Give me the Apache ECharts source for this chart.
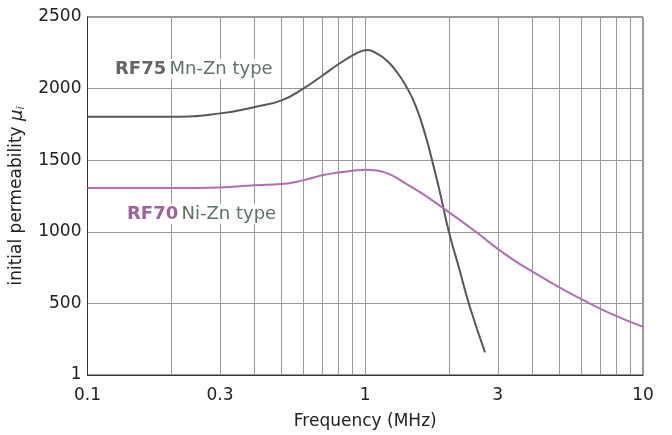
<!DOCTYPE html>
<html>
<head>
<meta charset="utf-8">
<script src="https://cdn.jsdelivr.net/npm/echarts@6/dist/echarts.min.js"></script>
<style>
html,body{margin:0;padding:0;background:#fff;}
#c{width:672px;height:435px;}
</style>
</head>
<body>
<div id="c"></div>
<script>
// Frequency (MHz) and initial permeability values
const rf75Freq = [0.1, 0.2, 0.3, 0.4, 0.5, 0.6, 0.7, 0.8, 0.9, 0.96, 1.02, 1.1, 1.2, 1.3, 1.4, 1.52, 1.65, 1.75, 1.85, 2.0, 2.18, 2.37, 2.7];
const rf75Mu   = [1804, 1804, 1827, 1872, 1918, 2002, 2090, 2170, 2232, 2258, 2269, 2246, 2193, 2115, 2020, 1878, 1669, 1480, 1290, 1000, 742, 487, 158];
const rf70Freq = [0.1, 0.2, 0.3, 0.4, 0.5, 0.6, 0.7, 0.8, 0.9, 1.0, 1.1, 1.2, 1.3, 1.4, 1.6, 1.8, 2.0, 2.5, 3.0, 3.5, 4, 5, 6, 7, 8, 9, 10];
const rf70Mu   = [1306, 1306, 1310, 1325, 1333, 1361, 1395, 1414, 1426, 1433, 1428, 1408, 1375, 1336, 1268, 1200, 1137, 1000, 881, 790, 722, 612, 529, 464, 413, 371, 336];
const minorGridFreq = [0.2, 0.3, 0.4, 0.5, 0.6, 0.7, 0.8, 0.9, 2, 3, 4, 5, 6, 7, 8, 9];
const extraXLabels = [0.3, 3];

const FONT = 'DejaVu Sans';
const zip = (a, b) => a.map((v, i) => [v, b[i]]);

const chart = echarts.init(document.getElementById('c'), null, {renderer: 'canvas'});
const gridColor = '#9a9a9a';
chart.setOption({
  animation: false,
  backgroundColor: '#fff',
  grid: {left: 86, right: 29, top: 17, bottom: 58, show: true, borderColor: '#333', borderWidth: 1},
  xAxis: {
    type: 'log', logBase: 10, min: 0.1, max: 10,
    name: 'Frequency (MHz)', nameLocation: 'middle', nameGap: 38,
    nameTextStyle: {fontFamily: FONT, fontSize: 17, color: '#222'},
    axisLine: {lineStyle: {color: '#333', width: 1}},
    axisTick: {show: false},
    axisLabel: {fontFamily: FONT, fontSize: 17, color: '#222', margin: 12,
      formatter: v => String(+v.toPrecision(3))},
    splitLine: {show: true, lineStyle: {color: gridColor, width: 1}},
    minorTick: {show: false}, minorSplitLine: {show: false}
  },
  yAxis: {
    type: 'value', min: 0, max: 2500, interval: 500,
    name: '{a|initial permeability }{m|μ}{s|i}', nameLocation: 'middle', nameGap: 61, nameRotate: 90,
    nameTextStyle: {fontFamily: FONT, fontSize: 17, color: '#222',
      rich: {a: {fontFamily: FONT, fontSize: 17, color: '#222'},
             m: {fontFamily: FONT, fontSize: 18, fontStyle: 'italic', color: '#222'},
             s: {fontFamily: FONT, fontSize: 11, fontStyle: 'italic', color: '#222', padding: [8, 0, 0, 0]}}},
    axisLine: {show: true, lineStyle: {color: '#333', width: 1}},
    axisTick: {show: false},
    axisLabel: {fontFamily: FONT, fontSize: 17, color: '#222', margin: 6,
      formatter: v => (v === 0 ? '1' : String(v))},
    splitLine: {show: true, lineStyle: {color: gridColor, width: 1}}
  },
  series: [
    {
      name: 'RF75', type: 'line', data: zip(rf75Freq, rf75Mu), showSymbol: false,
      smooth: 0.5, lineStyle: {color: '#585858', width: 2}, itemStyle: {color: '#585858'}, z: 5,
      markLine: {
        silent: true, symbol: 'none', z: 1,
        lineStyle: {color: gridColor, width: 1, type: 'solid'},
        label: {show: false},
        data: minorGridFreq.map(f => ({
          xAxis: f,
          label: extraXLabels.includes(f)
            ? {show: true, position: 'start', formatter: String(f), fontFamily: FONT, fontSize: 17, color: '#222', distance: 12}
            : {show: false}
        }))
      }
    },
    {
      name: 'RF70', type: 'line', data: zip(rf70Freq, rf70Mu), showSymbol: false,
      smooth: 0.5, lineStyle: {color: '#b36db6', width: 2}, itemStyle: {color: '#b36db6'}, z: 5
    }
  ],
  graphic: [
    {type: 'text', left: 112, top: 59, z: 100,
     style: {text: '{b|RF75} {n|Mn-Zn type}', backgroundColor: '#fff', padding: [1, 3],
       rich: {b: {fontFamily: FONT, fontSize: 18, fontWeight: 'bold', fill: '#666'},
              n: {fontFamily: FONT, fontSize: 18, fill: '#5e7266'}}}},
    {type: 'text', left: 124, top: 204, z: 100,
     style: {text: '{b|RF70} {n|Ni-Zn type}', backgroundColor: '#fff', padding: [1, 3],
       rich: {b: {fontFamily: FONT, fontSize: 18, fontWeight: 'bold', fill: '#a0629f'},
              n: {fontFamily: FONT, fontSize: 18, fill: '#5e7266'}}}}
  ]
});
</script>
</body>
</html>
